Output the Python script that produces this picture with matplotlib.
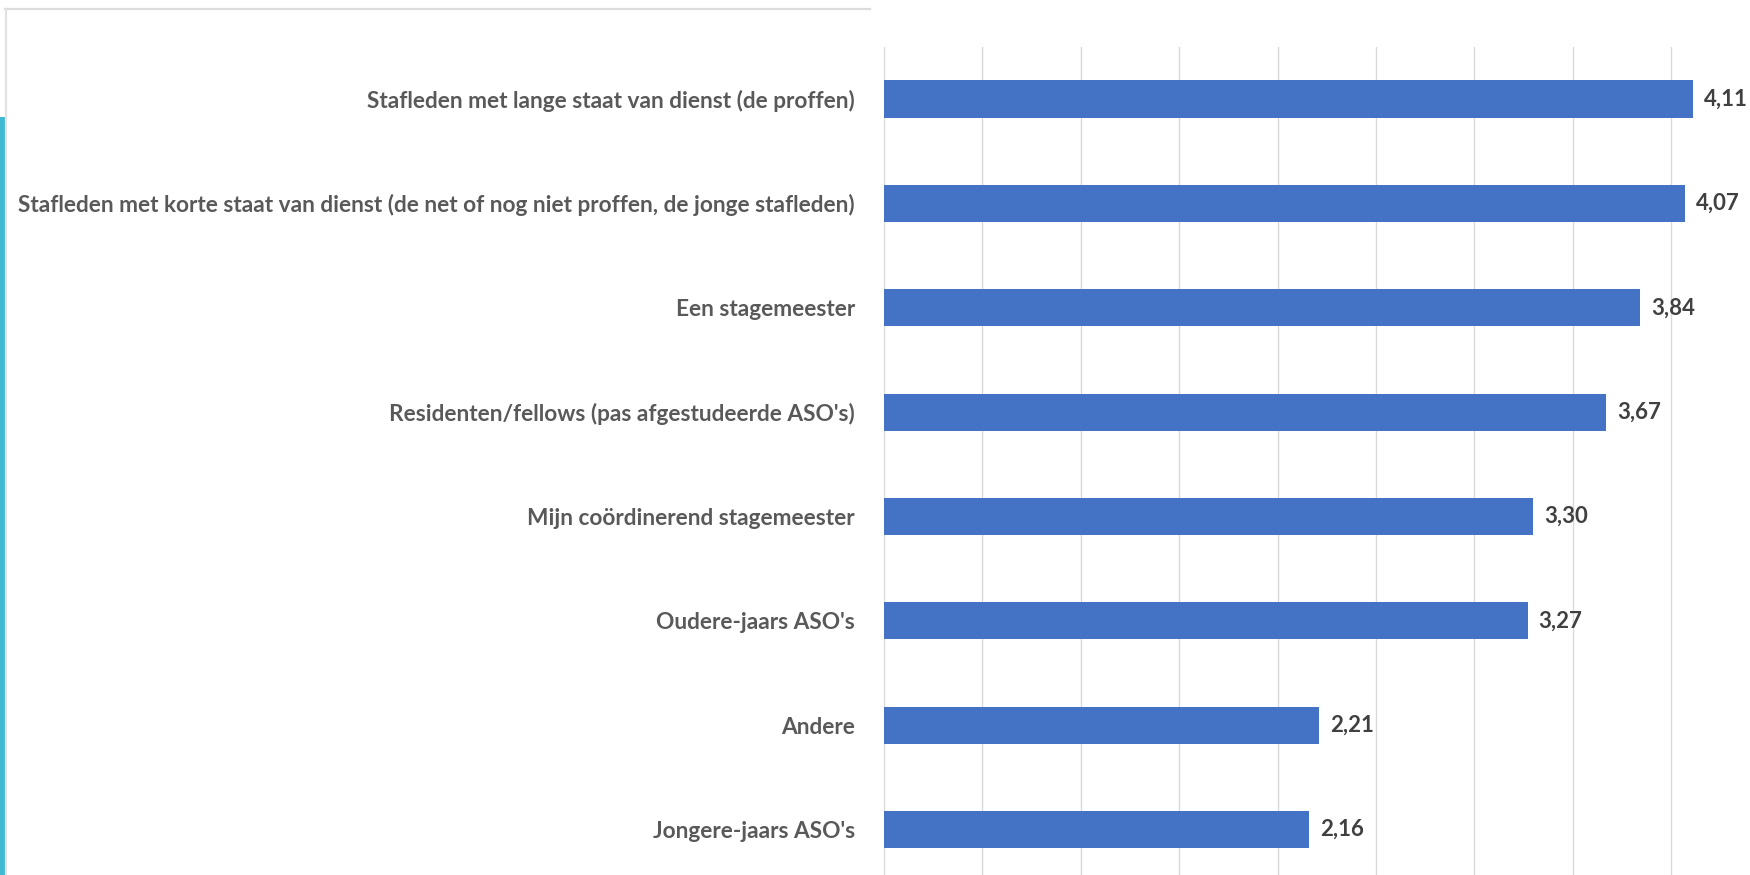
import matplotlib
matplotlib.use("Agg")
import matplotlib.pyplot as plt
from matplotlib.lines import Line2D
from matplotlib.patches import Rectangle

categories = [
    "Stafleden met lange staat van dienst (de proffen)",
    "Stafleden met korte staat van dienst (de net of nog niet proffen, de jonge stafleden)",
    "Een stagemeester",
    "Residenten/fellows (pas afgestudeerde ASO's)",
    "Mijn coördinerend stagemeester",
    "Oudere-jaars ASO's",
    "Andere",
    "Jongere-jaars ASO's",
]
scores = [4.11, 4.07, 3.84, 3.67, 3.30, 3.27, 2.21, 2.16]
grid_ticks = [0, 0.5, 1.0, 1.5, 2.0, 2.5, 3.0, 3.5, 4.0]

W, H = 1750, 875
fig = plt.figure(figsize=(W / 100, H / 100), dpi=100)
fig.patch.set_facecolor("white")

# plot area: zero line at x=884 px, one unit = 196.8 px
left_px, unit_px = 884, 196.8
xmax = 4.5
top_px, bottom_px = 46.8, 881.7
ax = fig.add_axes([left_px / W, 1 - bottom_px / H,
                   xmax * unit_px / W, (bottom_px - top_px) / H])

ypos = list(range(len(categories)))
ax.barh(ypos, scores, height=0.355, color="#4472C4", zorder=3)
ax.set_xlim(0, xmax)
ax.set_ylim(len(categories) - 0.5, -0.5)

ax.set_xticks(grid_ticks)
ax.xaxis.grid(True, color="#d9d9d9", linewidth=1.0, zorder=0)
ax.tick_params(axis="x", length=0, labelbottom=False)
ax.set_yticks(ypos)
ax.set_yticklabels(categories, family=["Lato", "DejaVu Sans"], fontsize=16.3,
                   fontweight="bold", color="#595959")
ax.tick_params(axis="y", length=0, pad=20.9)
for s in ax.spines.values():
    s.set_visible(False)

# shrink any category label that would run past the left frame line
fig.canvas.draw()
renderer = fig.canvas.get_renderer()
label_right, label_left_limit = 855, 18
for lbl in ax.get_yticklabels():
    width = lbl.get_window_extent(renderer).width
    if width > label_right - label_left_limit:
        lbl.set_fontsize(lbl.get_fontsize() * (label_right - label_left_limit) / width)

for y, v in zip(ypos, scores):
    ax.annotate(f"{v:.2f}".replace(".", ","), (v, y), xytext=(8, 0),
                textcoords="offset points", va="center", ha="left",
                family=["Lato", "DejaVu Sans"], fontsize=16,
                fontweight="bold", color="#404040")

# slide frame: thin grey border and cyan accent band on the left
fig.add_artist(Line2D([5 / W, 870 / W], [1 - 9 / H, 1 - 9 / H],
                      transform=fig.transFigure, color="#dcdcdc", linewidth=1.6))
fig.add_artist(Line2D([6 / W, 6 / W], [1 - 9 / H, 0],
                      transform=fig.transFigure, color="#e2e2e2", linewidth=1.6))
fig.add_artist(Rectangle((0, 0), 5 / W, 1 - 117 / H,
                         transform=fig.transFigure, color="#3fb9d4", linewidth=0))

fig.savefig("out.png", dpi=100)
